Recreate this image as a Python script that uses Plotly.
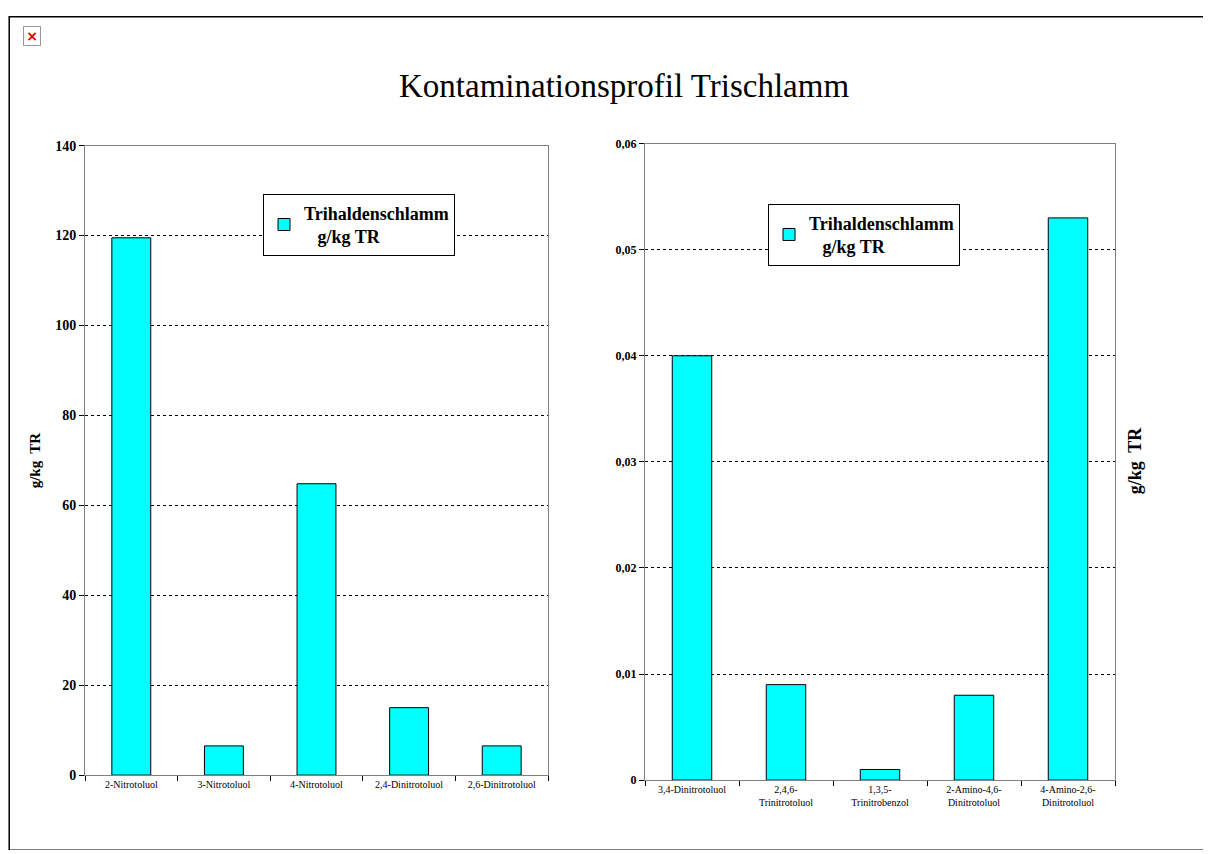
import plotly.graph_objects as go

cats_left = ["2-Nitrotoluol", "3-Nitrotoluol", "4-Nitrotoluol", "2,4-Dinitrotoluol", "2,6-Dinitrotoluol"]
vals_left = [119.5, 6.5, 64.8, 15.0, 6.5]
cats_right = ["3,4-Dinitrotoluol", "2,4,6-<br>Trinitrotoluol", "1,3,5-<br>Trinitrobenzol",
              "2-Amino-4,6-<br>Dinitrotoluol", "4-Amino-2,6-<br>Dinitrotoluol"]
vals_right = [0.040, 0.009, 0.001, 0.008, 0.053]
right_tickvals = [0, 0.01, 0.02, 0.03, 0.04, 0.05, 0.06]
right_ticktext = ["0", "0,01", "0,02", "0,03", "0,04", "0,05", "0,06"]
series_name = "<b>Trihaldenschlamm</b><br><b>   g/kg TR</b>"

OX, OY = 8, 12
W, H = 1203, 842
def px(x): return (x - OX) / W
def py(y):
    y2 = 145 + (y - 145) / 0.983
    return 1 - (y2 - OY) / H

SERIF = "Liberation Serif, DejaVu Serif, serif"
fig = go.Figure()
bar_style = dict(marker=dict(color="#00FFFF", line=dict(color="#000000", width=1)), width=0.42)
fig.add_trace(go.Bar(x=cats_left, y=vals_left, name=series_name, xaxis="x", yaxis="y", legend="legend", **bar_style))
fig.add_trace(go.Bar(x=cats_right, y=vals_right, name=series_name, xaxis="x2", yaxis="y2", legend="legend2", **bar_style))

ax = dict(showline=True, linecolor="#808080", mirror=True, ticks="outside", tickcolor="#000", ticklen=5,
          tickfont=dict(family=SERIF, size=10, color="#000"))
fig.update_layout(
    width=W, height=H, margin=dict(l=0, r=0, t=0, b=0),
    paper_bgcolor="white", plot_bgcolor="white",
    font=dict(family=SERIF, color="#000"),
    separators=", ",
    xaxis=dict(domain=[px(85), px(548)], anchor="y", tickson="boundaries", showgrid=False, **ax),
    yaxis=dict(domain=[py(775), py(145)], anchor="x", range=[0, 140], dtick=20, showgrid=True,
               gridcolor="#000", griddash="dot", gridwidth=1,
               **{**ax, "tickfont": dict(family=SERIF, size=14, color="#000", weight="bold")}),
    xaxis2=dict(domain=[px(645), px(1115)], anchor="y2", tickson="boundaries", showgrid=False, **ax),
    yaxis2=dict(domain=[py(780), py(143)], anchor="x2", range=[0, 0.06], tickvals=right_tickvals,
                ticktext=right_ticktext, showgrid=True, gridcolor="#000", griddash="dot", gridwidth=1,
                **{**ax, "tickfont": dict(family=SERIF, size=12, color="#000", weight="bold")}),
    legend=dict(x=px(263), y=py(193), xanchor="left", yanchor="top", bordercolor="#000", borderwidth=1,
                bgcolor="white", font=dict(family=SERIF, size=18, color="#000"), itemwidth=30),
    legend2=dict(x=px(768), y=py(203), xanchor="left", yanchor="top", bordercolor="#000", borderwidth=1,
                 bgcolor="white", font=dict(family=SERIF, size=18, color="#000"), itemwidth=30),
    showlegend=True,
)
fig.add_annotation(text="Kontaminationsprofil Trischlamm", x=px(624), y=py(85), xref="paper", yref="paper",
                   xanchor="center", yanchor="middle", showarrow=False, font=dict(family=SERIF, size=33, color="#000"))
fig.add_annotation(text="<b>g/kg  TR</b>", x=px(35), y=py(460), xref="paper", yref="paper", textangle=-90,
                   xanchor="center", yanchor="middle", showarrow=False, font=dict(family=SERIF, size=15, color="#000"))
fig.add_annotation(text="<b>g/kg  TR</b>", x=px(1135), y=py(460), xref="paper", yref="paper", textangle=-90,
                   xanchor="center", yanchor="middle", showarrow=False, font=dict(family=SERIF, size=18, color="#000"))
fig.add_annotation(text="<b>×</b>", x=px(32), y=py(35), xref="paper", yref="paper", showarrow=False,
                   xanchor="center", yanchor="middle",
                   font=dict(family="DejaVu Sans", size=14, color="#e00000"), bordercolor="#999", borderwidth=1,
                   bgcolor="white", width=14, height=16)
fig.add_shape(type="rect", xref="paper", yref="paper", x0=0.001, x1=1.01, y0=-0.01, y1=0.998,
              line=dict(color="#000", width=1.5))
fig.write_html("out.html")
